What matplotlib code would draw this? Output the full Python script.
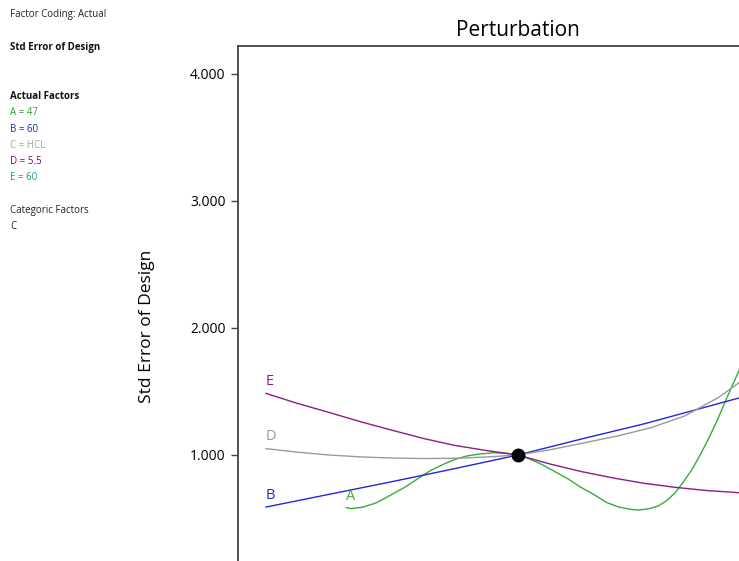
import matplotlib
matplotlib.use("Agg")
import matplotlib.pyplot as plt

plt.rcParams['font.family'] = ['Open Sans', 'DejaVu Sans']

# deviation from reference point (coded units) and std error of design
a_x = [-0.681, -0.66, -0.615, -0.561, -0.5, -0.45, -0.4, -0.349, -0.296, -0.25, -0.204,
       -0.151, -0.098, -0.05, 0.0, 0.05, 0.1, 0.15, 0.2, 0.25, 0.3, 0.35, 0.4, 0.45,
       0.48, 0.52, 0.556, 0.59, 0.622, 0.65, 0.69, 0.72, 0.754, 0.79, 0.82, 0.85, 0.877, 0.92]
a_y = [0.585, 0.578, 0.59, 0.624, 0.69, 0.745, 0.81, 0.875, 0.927, 0.965, 0.992,
       1.008, 1.017, 1.014, 1.0, 0.965, 0.92, 0.865, 0.81, 0.745, 0.69, 0.627, 0.59, 0.571,
       0.567, 0.577, 0.598, 0.64, 0.70, 0.77, 0.885, 0.99, 1.12, 1.27, 1.41, 1.545, 1.665, 1.86]

b_x = [-1.0, -0.75, -0.5, -0.25, 0.0, 0.25, 0.5, 0.75, 0.877, 1.0]
b_y = [0.59, 0.69, 0.79, 0.893, 1.0, 1.125, 1.245, 1.38, 1.449, 1.53]

d_x = [-1.0, -0.875, -0.75, -0.625, -0.5, -0.375, -0.25, -0.125, 0.0, 0.125, 0.266,
       0.4, 0.528, 0.661, 0.794, 0.877, 1.0]
d_y = [1.05, 1.022, 1.0, 0.985, 0.976, 0.972, 0.974, 0.984, 1.0, 1.04, 1.097,
       1.152, 1.215, 1.307, 1.451, 1.569, 1.75]

e_x = [-1.0, -0.875, -0.75, -0.625, -0.5, -0.375, -0.25, -0.125, 0.0, 0.125, 0.25,
       0.375, 0.5, 0.625, 0.75, 0.877, 1.0]
e_y = [1.485, 1.406, 1.335, 1.262, 1.195, 1.13, 1.075, 1.035, 1.0, 0.93, 0.87,
       0.82, 0.777, 0.745, 0.72, 0.703, 0.69]

curves = [('A', a_x, a_y, '#3aaa3a'),
          ('B', b_x, b_y, '#2424dd'),
          ('D', d_x, d_y, '#999999'),
          ('E', e_x, e_y, '#8a1c8a')]

yticks = [1.0, 2.0, 3.0, 4.0]

side_text = [('Factor Coding: Actual', 'normal', '#222222'),
             ('', 'normal', '#222222'),
             ('Std Error of Design', 'bold', '#111111'),
             ('', 'normal', '#222222'),
             ('', 'normal', '#222222'),
             ('Actual Factors', 'bold', '#111111'),
             ('A = 47', 'normal', '#2aa02a'),
             ('B = 60', 'normal', '#2020cc'),
             ('C = HCL', 'normal', '#a0a0a0'),
             ('D = 5.5', 'normal', '#800080'),
             ('E = 60', 'normal', '#1a9a9a'),
             ('', 'normal', '#222222'),
             ('Categoric Factors', 'normal', '#222222'),
             ('C', 'normal', '#222222')]

fig = plt.figure(figsize=(7.39, 5.61), dpi=100)
# axes reaches past the right and bottom edges, as in the screenshot
ax = fig.add_axes([238/739, 1 - 582/561, 560/739, 536/561])

for name, xs, ys, col in curves:
    ax.plot(xs, ys, color=col, lw=1.0)
    ax.annotate(name, (xs[0], ys[0]), xytext=(0, 3), textcoords='offset points',
                color=col, fontsize=10.5, ha='left', va='bottom')

ax.plot([0], [1.0], 'o', color='black', markersize=9, zorder=5)

ax.set_xlim(-1.111, 1.111)
ax.set_ylim(0, 4.22)
ax.set_yticks(yticks)
ax.set_yticklabels(['%.3f' % v for v in yticks], fontsize=10)
ax.tick_params(axis='y', direction='out', length=5, width=1, color='#444444', pad=4)
ax.set_xticks([])
for s in ['right', 'bottom']:
    ax.spines[s].set_visible(False)
for s in ['left', 'top']:
    ax.spines[s].set_color('#444444')
    ax.spines[s].set_linewidth(1.3)

ax.set_title('Perturbation', fontsize=15, pad=7)
fig.text(147/739, 1 - 326/561, 'Std Error of Design', rotation=90, fontsize=12.5,
         ha='center', va='center')

for i, (txt, w, col) in enumerate(side_text):
    if txt:
        fig.text(10/739, 1 - (15 + i * 16.3)/561, txt, fontsize=7, fontweight=w,
                 color=col, ha='left', va='center')

fig.savefig('out.png', dpi=100)
